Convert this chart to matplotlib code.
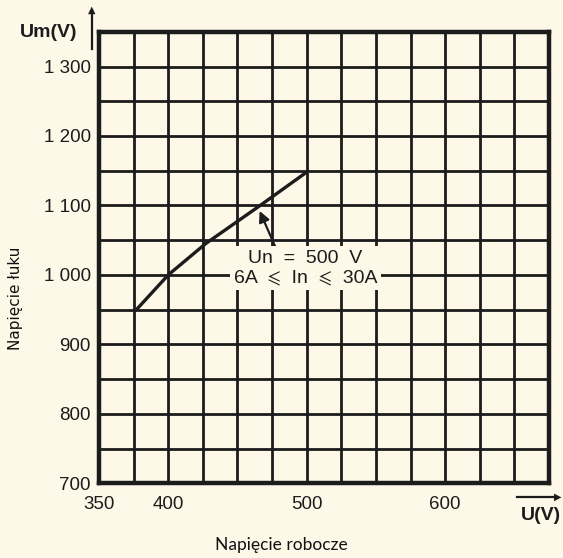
import matplotlib.pyplot as plt

# values
u_work = [377, 400, 427, 465, 500]
u_arc = [950, 1000, 1045, 1098, 1148]

x_grid = list(range(350, 676, 25))
x_labels = {350: "350", 400: "400", 500: "500", 600: "600"}
y_grid = list(range(700, 1351, 50))
y_labels = {700: "700", 800: "800", 900: "900", 1000: "1 000",
            1100: "1 100", 1200: "1 200", 1300: "1 300"}

bg = "#fdf8e7"
ink = "#1c1c1c"
tick_font = ["Liberation Sans", "STIXGeneral", "DejaVu Sans"]

fig = plt.figure(figsize=(5.63, 5.58), dpi=100, facecolor=bg)
ax = fig.add_axes([0.176, 0.134, 0.799, 0.809], facecolor=bg)

ax.plot(u_work, u_arc, color=ink, lw=2.4, solid_capstyle="round", zorder=3)

ax.set_xlim(350, 675)
ax.set_ylim(700, 1350)
ax.set_xticks(x_grid)
ax.set_xticklabels([x_labels.get(v, "") for v in x_grid], fontsize=13.5, family=tick_font)
ax.set_yticks(y_grid)
ax.set_yticklabels([y_labels.get(v, "") for v in y_grid], fontsize=13.5, family=tick_font)
ax.tick_params(axis="x", length=0, pad=9, colors=ink)
ax.tick_params(axis="y", length=0, pad=6, colors=ink)
ax.grid(True, color=ink, lw=2.0)
ax.set_axisbelow(True)
for s in ax.spines.values():
    s.set_linewidth(3.2)
    s.set_color(ink)

# annotation with arrow
ax.annotate("Un  =  500  V\n6A  ⩽  In  ⩽  30A", xy=(466, 1092), xytext=(499, 1010),
            ha="center", va="center", fontsize=14, family=tick_font, color=ink,
            linespacing=1.15,
            bbox=dict(boxstyle="square,pad=0.2", fc=bg, ec="none"),
            arrowprops=dict(arrowstyle="-|>", color=ink, lw=1.6, mutation_scale=16,
                            shrinkA=0, shrinkB=0, relpos=(0.3, 1.0)),
            zorder=4)

# axis unit labels with arrows
fig.text(0.036, 0.941, "Um(V)", fontsize=14, fontweight="bold", family=tick_font,
         color=ink, va="center")
fig.add_artist(plt.Line2D([0.163, 0.163], [0.912, 0.98], color=ink, lw=1.6))
fig.text(0.163, 0.983, "▲", fontsize=7, color=ink, ha="center", va="center")
fig.text(0.996, 0.077, "U(V)", fontsize=14, fontweight="bold", family=tick_font,
         color=ink, ha="right", va="center")
fig.add_artist(plt.Line2D([0.918, 0.988], [0.109, 0.109], color=ink, lw=1.6))
fig.text(0.99, 0.109, "▶", fontsize=7, color=ink, ha="center", va="center")

fig.text(0.5, 0.024, "Napięcie robocze", fontsize=12.5, family="Lato", color="#111111",
         ha="center", va="center")
fig.text(0.028, 0.465, "Napięcie łuku", fontsize=11, family="DejaVu Sans", color="#111111",
         ha="center", va="center", rotation=90)

fig.savefig("out.png", dpi=100, facecolor=bg)
